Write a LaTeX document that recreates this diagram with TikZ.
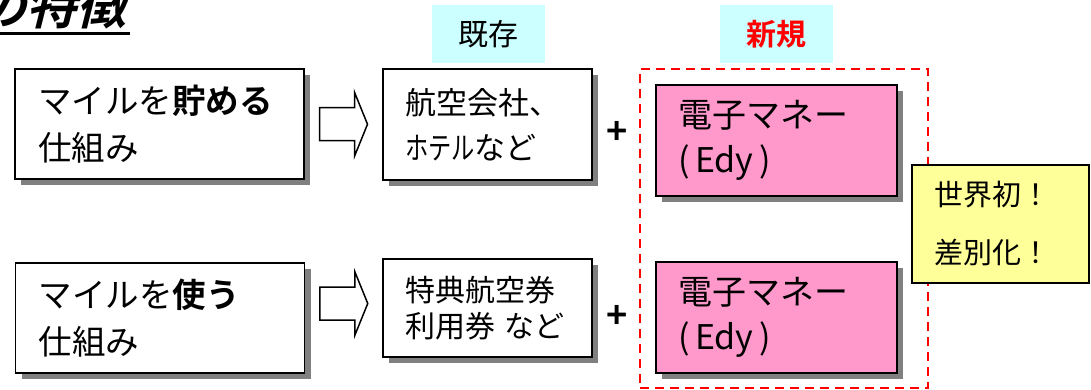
\documentclass[tikz,border=0pt]{standalone}
\usepackage{fontspec}
\setmainfont{Noto Sans CJK JP}[BoldFont={Noto Sans CJK JP Bold}]
\newfontfamily\titlefont{Noto Sans CJK JP Bold}[FakeSlant=0.25]
\usetikzlibrary{shadows,calc}
\definecolor{cyanbg}{HTML}{CCFFFF}
\definecolor{pinkbg}{HTML}{FF99CC}
\definecolor{yellowbg}{HTML}{FFFF99}
\definecolor{shadowgray}{HTML}{808080}
\definecolor{dashred}{HTML}{FF0000}
\tikzset{
  shadowed/.style={drop shadow={shadow xshift=6pt, shadow yshift=-6pt, fill=shadowgray, opacity=1}},
  bigbox/.style={draw=black, line width=1.8pt, fill=white, shadowed, align=left, inner ysep=0pt,
     inner xsep=23pt, text width=243pt, minimum height=110pt, font=\fontsize{33.5}{47}\selectfont},
  midbox/.style={draw=black, line width=1.8pt, fill=white, shadowed, align=left, inner ysep=0pt,
     inner xsep=22pt, text width=165pt},
  pinkbox/.style={draw=black, line width=1.8pt, fill=pinkbg, shadowed, align=left, inner ysep=0pt,
     inner xsep=22pt, text width=197pt, minimum height=111pt, font=\fontsize{34}{45}\selectfont},
  yellowbox/.style={draw=black, line width=1.5pt, fill=yellowbg, align=left, inner ysep=0pt,
     inner xsep=22pt, text width=133pt, minimum height=118pt, font=\fontsize{29}{58}\selectfont},
  tagbox/.style={fill=cyanbg, minimum width=113pt, minimum height=58pt, inner sep=0pt},
  plus/.style={font=\bfseries\fontsize{36}{36}\selectfont, inner sep=0pt},
  groupbox/.style={draw=dashred, line width=1.8pt, dash pattern=on 9pt off 6pt, minimum width=288pt, minimum height=319pt, inner sep=0pt},
  blockarr/.pic={\draw[line width=1.5pt, fill=white, line join=miter]
     (-24,-16.5) -- (11,-16.5) -- (11,-32) -- (24,0) -- (11,32) -- (11,16.5) -- (-24,16.5) -- cycle;}
}
\begin{document}
\begin{tikzpicture}[x=1pt, y=-1pt]
\useasboundingbox (0,0) rectangle (1091,390);
\clip (0,0) rectangle (1091,390);
% title
\node[anchor=base west, inner sep=0pt, font=\titlefont\fontsize{50}{50}\selectfont] (title) at (-24,25) {の特徴};
\draw[line width=3pt] ([yshift=-9pt]title.base west) -- ([yshift=-9pt,xshift=4pt]title.base east);
% tags
\node[tagbox, font=\fontsize{30}{30}\selectfont] (kizon) at (488.5,34) {既存};
\node[tagbox, font=\bfseries\fontsize{30}{30}\selectfont, text=dashred] (shinki) at (776.5,34) {新規};
% group
\node[groupbox] (grp) at (784,228.5) {};
% left boxes
\node[bigbox] (save) at (159.5,124) {マイルを\textbf{貯める}\\仕組み};
\node[bigbox] (use) at (160,318) {マイルを\textbf{使う}\\仕組み};
% middle boxes
\node[midbox, minimum height=111pt, font=\fontsize{31}{45}\selectfont] (air) at (487.5,124.5) {航空会社、\\\scalebox{0.75}[1]{ホテル}など};
\node[midbox, minimum height=98pt, font=\fontsize{30}{36}\selectfont] (ticket) at (487.5,308) {特典航空券\\利用券 など};
% arrows
\pic at ($(save.east)!0.5!(air.west)$) {blockarr};
\pic at ($(use.east)!0.5!(ticket.west)+(0,-9.5)$) {blockarr};
% plus
\node[plus] (p1) at (617,133) {+};
\node[plus] (p2) at (617,317) {+};
% pink boxes
\node[pinkbox] (edy1) at (776.5,140.5) {電子マネー\\(\,Edy\,)};
\node[pinkbox] (edy2) at (776.5,317.5) {電子マネー\\(\,Edy\,)};
% yellow
\node[yellowbox] (first) at (1000.5,224) {世界初！\\差別化！};
\end{tikzpicture}
\end{document}
